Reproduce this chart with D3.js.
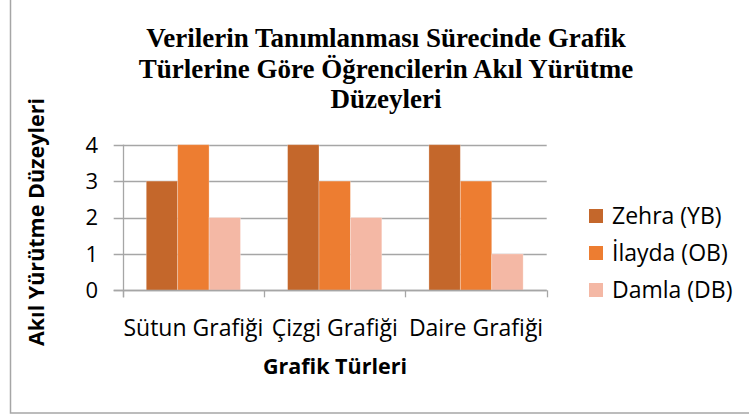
<!DOCTYPE html>
<html>
<head>
<meta charset="utf-8">
<script src="https://cdn.jsdelivr.net/npm/d3@7"></script>
<style>
  html, body { margin: 0; padding: 0; background: #fff; }
  svg { display: block; }
</style>
</head>
<body>
<svg id="chart" width="749" height="416"></svg>
<script>
// Chart data
const categories = ["Sütun Grafiği", "Çizgi Grafiği", "Daire Grafiği"];
const seriesNames = ["Zehra (YB)", "İlayda (OB)", "Damla (DB)"];
const zehra = [3, 4, 4];
const ilayda = [4, 3, 3];
const damla = [2, 2, 1];
const yTicks = [0, 1, 2, 3, 4];
const titleLines = ["Verilerin Tanımlanması Sürecinde Grafik", "Türlerine Göre Öğrencilerin Akıl Yürütme", "Düzeyleri"];
const xTitle = "Grafik Türleri";
const yTitle = "Akıl Yürütme Düzeyleri";

const seriesValues = [zehra, ilayda, damla];
const colors = ["#C4672B", "#ED7D31", "#F4B8A5"];

const svg = d3.select("#chart");
const sansFont = "'Open Sans', 'Noto Sans', sans-serif";
const axisGrey = "#A6A6A6";

// Outer frame of the chart area
svg.append("rect")
  .attr("x", 10.5).attr("y", -10)
  .attr("width", 800).attr("height", 423)
  .attr("fill", "none").attr("stroke", axisGrey).attr("stroke-width", 1.5);

const plot = { left: 122.7, right: 546.7, top: 144.7, bottom: 290.3 };

const x0 = d3.scaleBand().domain(categories).range([plot.left, plot.right]).paddingInner(0).paddingOuter(0);
const x1 = d3.scaleBand().domain(seriesNames).range([0, x0.bandwidth()]).paddingInner(0).paddingOuter(0.75);
const y = d3.scaleLinear().domain([0, 4]).range([plot.bottom, plot.top]);

// Horizontal gridlines with outward tick stubs on the left
svg.append("g").selectAll("line").data(yTicks).join("line")
  .attr("x1", plot.left - 9).attr("x2", plot.right)
  .attr("y1", d => Math.round(y(d)) + 0.5).attr("y2", d => Math.round(y(d)) + 0.5)
  .attr("stroke", axisGrey).attr("stroke-width", 1.3);

// Bars
const groups = svg.append("g").selectAll("g").data(categories).join("g")
  .attr("transform", d => `translate(${x0(d)},0)`);
groups.selectAll("rect")
  .data((c, ci) => seriesNames.map((s, si) => ({ s, si, v: seriesValues[si][ci] })))
  .join("rect")
  .attr("x", d => x1(d.s))
  .attr("width", x1.bandwidth())
  .attr("y", d => y(d.v))
  .attr("height", d => y(0) - y(d.v))
  .attr("fill", d => colors[d.si])
  .attr("stroke", "#fff").attr("stroke-opacity", 0.35).attr("stroke-width", 0.8);

// Y axis line
svg.append("line")
  .attr("x1", Math.round(plot.left) + 0.5).attr("x2", Math.round(plot.left) + 0.5)
  .attr("y1", plot.top).attr("y2", plot.bottom + 7)
  .attr("stroke", axisGrey).attr("stroke-width", 1.3);

// X axis with downward ticks at category boundaries
const xAxisLine = svg.append("g");
xAxisLine.append("line")
  .attr("x1", plot.left - 9).attr("x2", plot.right)
  .attr("y1", Math.round(plot.bottom) + 0.5).attr("y2", Math.round(plot.bottom) + 0.5)
  .attr("stroke", axisGrey).attr("stroke-width", 1.3);
const boundaries = categories.map(c => x0(c)).concat([plot.right]);
xAxisLine.selectAll("line.tick").data(boundaries).join("line")
  .attr("class", "tick")
  .attr("x1", d => Math.round(d) + 0.5).attr("x2", d => Math.round(d) + 0.5)
  .attr("y1", plot.bottom).attr("y2", plot.bottom + 7)
  .attr("stroke", axisGrey).attr("stroke-width", 1.3);

// Y tick labels
svg.append("g").selectAll("text").data(yTicks).join("text")
  .attr("x", 98).attr("y", d => y(d))
  .attr("dy", "0.36em")
  .attr("text-anchor", "end")
  .attr("font-family", sansFont).attr("font-size", 22)
  .attr("fill", "#000")
  .text(d => d);

// Category labels
svg.append("g").selectAll("text").data(categories).join("text")
  .attr("x", d => x0(d) + x0.bandwidth() / 2).attr("y", 336)
  .attr("text-anchor", "middle")
  .attr("font-family", sansFont).attr("font-size", 23)
  .attr("fill", "#000")
  .text(d => d);

// Axis titles
svg.append("text")
  .attr("x", 335).attr("y", 374)
  .attr("text-anchor", "middle")
  .attr("font-family", sansFont).attr("font-size", 21.5).attr("font-weight", "bold")
  .text(xTitle);

svg.append("text")
  .attr("transform", "translate(44,222) rotate(-90)")
  .attr("text-anchor", "middle")
  .attr("font-family", sansFont).attr("font-size", 21.5).attr("font-weight", "bold")
  .text(yTitle);

// Chart title
svg.append("g").selectAll("text").data(titleLines).join("text")
  .attr("x", 386).attr("y", (d, i) => 47 + i * 30.7)
  .attr("text-anchor", "middle")
  .attr("font-family", "'Liberation Serif', 'Times New Roman', serif")
  .attr("font-size", 27).attr("font-weight", "bold")
  .text(d => d);

// Legend
const legend = svg.append("g").selectAll("g").data(seriesNames).join("g")
  .attr("transform", (d, i) => `translate(589,${216 + i * 37})`);
legend.append("rect")
  .attr("x", 0).attr("y", -7).attr("width", 14).attr("height", 14)
  .attr("fill", (d, i) => colors[i]);
legend.append("text")
  .attr("x", 23).attr("y", 0).attr("dy", "0.36em")
  .attr("font-family", sansFont).attr("font-size", 23)
  .text(d => d);
</script>
</body>
</html>
